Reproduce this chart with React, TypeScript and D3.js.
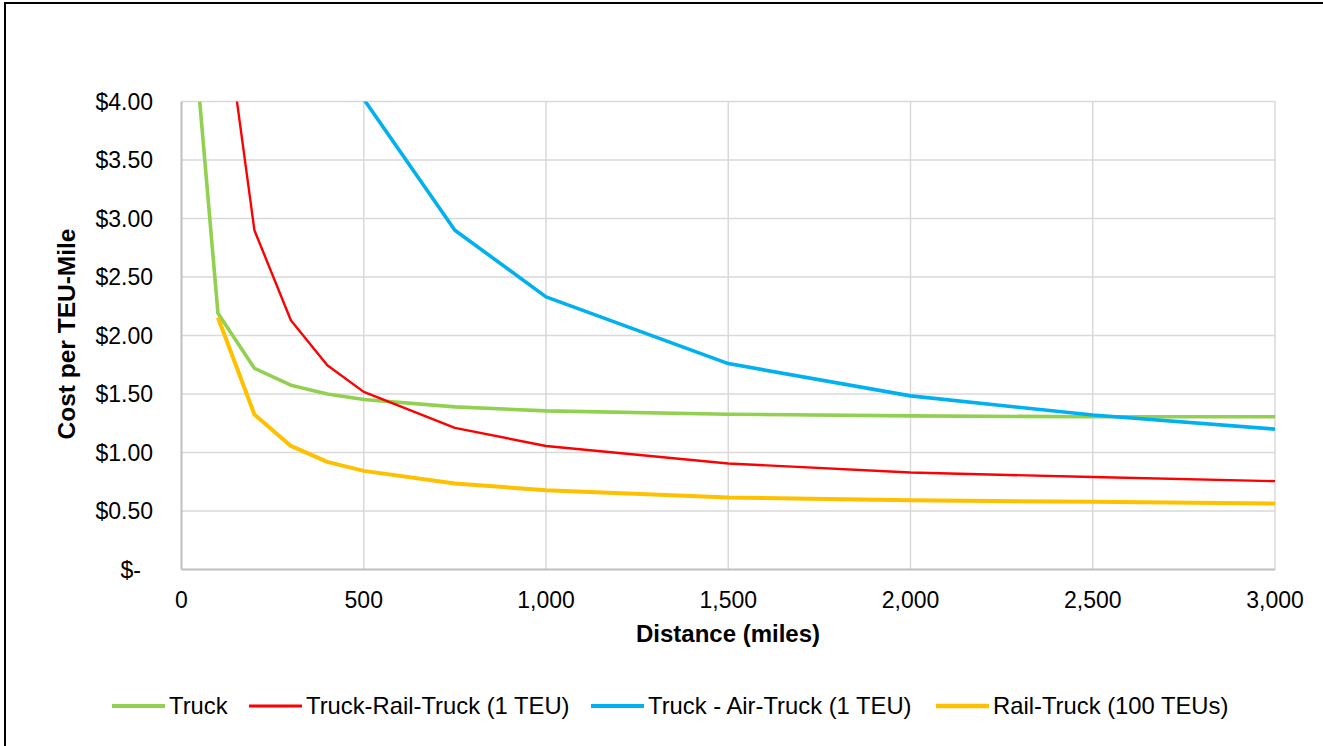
import React from "react";
import * as d3 from "d3";

const distances = [50, 100, 200, 300, 400, 500, 750, 1000, 1500, 2000, 2500, 3000];
const truck = [4.0, 2.19, 1.72, 1.575, 1.5, 1.453, 1.39, 1.356, 1.327, 1.313, 1.305, 1.305];
const truckRailTruck = [null, 5.2, 2.9, 2.13, 1.746, 1.518, 1.21, 1.056, 0.906, 0.829, 0.79, 0.755];
const truckAirTruck = [null, null, null, null, null, 4.02, 2.9, 2.33, 1.76, 1.484, 1.32, 1.2];
const railTruck = [null, 2.154, 1.325, 1.056, 0.92, 0.843, 0.735, 0.678, 0.615, 0.592, 0.578, 0.564];

const xTicks = [0, 500, 1000, 1500, 2000, 2500, 3000];
const yTicks = [0, 0.5, 1, 1.5, 2, 2.5, 3, 3.5, 4];

const seriesNames = ["Truck", "Truck-Rail-Truck (1 TEU)", "Truck - Air-Truck (1 TEU)", "Rail-Truck (100 TEUs)"];
const seriesValues = [truck, truckRailTruck, truckAirTruck, railTruck];
const seriesColors = ["#92D050", "#FF0000", "#00B0F0", "#FFC000"];
const seriesWidths = [3.6, 2.4, 3.6, 4];
const legendLineX = [112, 249, 591, 936];

const W = 1323;
const H = 746;
const FONT = "'Liberation Sans', Arial, sans-serif";

export default function App() {
  const x = d3.scaleLinear().domain([0, 3000]).range([181.5, 1275]);
  const y = d3.scaleLinear().domain([0, 4]).range([569.5, 101.5]);

  const line = d3
    .line<[number, number | null]>()
    .defined((d) => d[1] !== null)
    .x((d) => x(d[0]))
    .y((d) => y(d[1] as number));

  const yFmt = (v: number) => (v === 0 ? "$-" : "$" + d3.format(".2f")(v));
  const xFmt = d3.format(",");

  return (
    <div style={{ position: "absolute", left: 0, top: 0 }}>
      <svg width={W} height={H} style={{ display: "block", background: "#fff" }}>
        <defs>
          <clipPath id="plotClip">
            <rect x={x(0)} y={y(4)} width={x(3000) - x(0)} height={y(0) - y(4)} />
          </clipPath>
        </defs>
        {/* chart frame */}
        <path d={`M5,${H + 5} V3 H${W + 5}`} fill="none" stroke="#000" strokeWidth={2} />

        {/* gridlines */}
        {yTicks.filter((t) => t > 0).map((t) => (
          <line key={"gy" + t} x1={x(0)} x2={x(3000)} y1={y(t)} y2={y(t)} stroke="#d9d9d9" strokeWidth={1.5} />
        ))}
        {xTicks.filter((t) => t > 0).map((t) => (
          <line key={"gx" + t} x1={x(t)} x2={x(t)} y1={y(0)} y2={y(4)} stroke="#d9d9d9" strokeWidth={1.5} />
        ))}
        {/* axes */}
        <line x1={x(0)} x2={x(0)} y1={y(0)} y2={y(4)} stroke="#bfbfbf" strokeWidth={2} />
        <line x1={x(0)} x2={x(3000)} y1={y(0)} y2={y(0)} stroke="#bfbfbf" strokeWidth={2} />

        {/* y tick labels */}
        {yTicks.map((t) => (
          <text
            key={"yl" + t}
            x={t === 0 ? 141 : 153}
            y={y(t)}
            dy="0.35em"
            textAnchor="end"
            fontFamily={FONT}
            fontSize={23}
            fill="#000"
          >
            {yFmt(t)}
          </text>
        ))}
        {/* x tick labels */}
        {xTicks.map((t) => (
          <text
            key={"xl" + t}
            x={x(t)}
            y={600}
            dy="0.35em"
            textAnchor="middle"
            fontFamily={FONT}
            fontSize={23}
            fill="#000"
          >
            {xFmt(t)}
          </text>
        ))}

        {/* axis titles */}
        <text
          transform={`translate(66,334) rotate(-90)`}
          textAnchor="middle"
          dy="0.35em"
          fontFamily={FONT}
          fontSize={24.5}
          fontWeight="bold"
          fill="#000"
        >
          Cost per TEU-Mile
        </text>
        <text x={728} y={634} dy="0.35em" textAnchor="middle" fontFamily={FONT} fontSize={24} fontWeight="bold" fill="#000">
          Distance (miles)
        </text>

        {/* series */}
        <g clipPath="url(#plotClip)">
          {seriesValues.map((vals, i) => (
            <path
              key={"s" + i}
              d={line(distances.map((d, j) => [d, vals[j]] as [number, number | null])) || ""}
              fill="none"
              stroke={seriesColors[i]}
              strokeWidth={seriesWidths[i]}
              strokeLinejoin="round"
            />
          ))}
        </g>

        {/* legend */}
        {seriesNames.map((name, i) => (
          <g key={"lg" + i}>
            <line
              x1={legendLineX[i]}
              x2={legendLineX[i] + 53}
              y1={706}
              y2={706}
              stroke={seriesColors[i]}
              strokeWidth={seriesWidths[i] + 0.4}
            />
            <text x={legendLineX[i] + 57} y={706} dy="0.35em" fontFamily={FONT} fontSize={23.8} fill="#000">
              {name}
            </text>
          </g>
        ))}
      </svg>
    </div>
  );
}
